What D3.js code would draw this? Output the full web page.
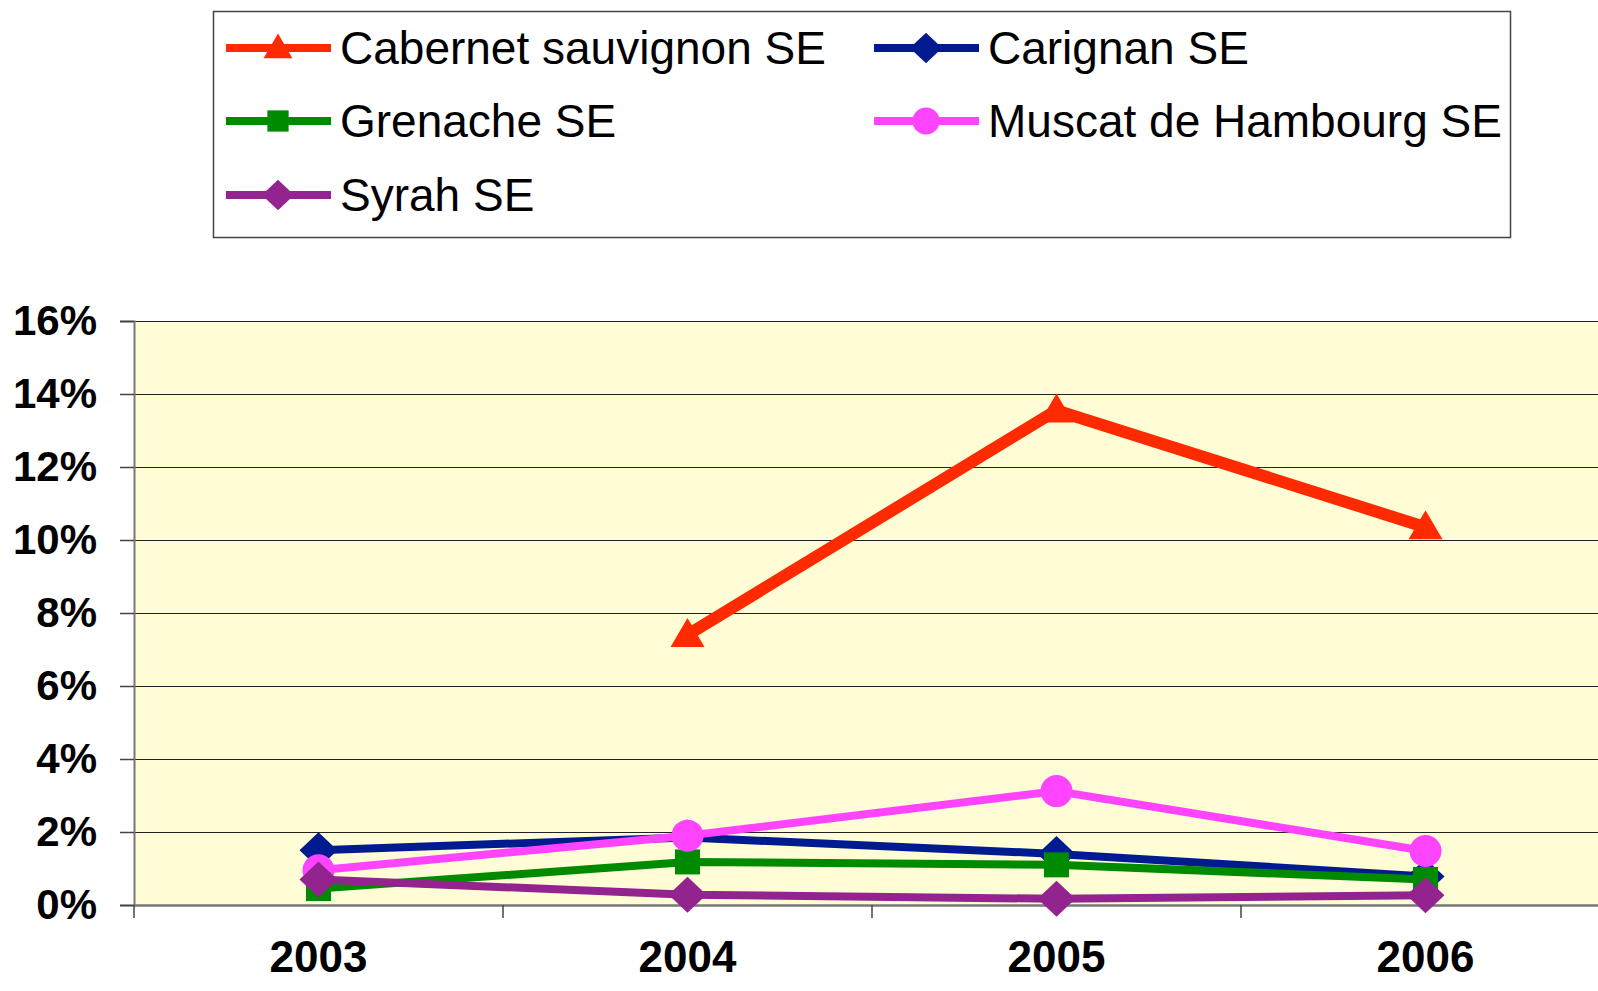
<!DOCTYPE html>
<html>
<head>
<meta charset="utf-8">
<script src="https://cdn.jsdelivr.net/npm/d3@7"></script>
<style>
  html, body { margin: 0; padding: 0; background: #fff; }
  svg { display: block; font-family: "Liberation Sans", Arial, sans-serif; }
</style>
</head>
<body>
<svg id="chart" width="1598" height="991"></svg>
<script>
// data (percent)
const years = ['2003', '2004', '2005', '2006']
const yTicks = [0, 2, 4, 6, 8, 10, 12, 14, 16]

const seriesNames = ['Cabernet sauvignon SE', 'Carignan SE', 'Grenache SE', 'Muscat de Hambourg SE', 'Syrah SE']
const cabernet = [null, 7.4, 13.55, 10.35]
const carignan = [1.5, 1.85, 1.4, 0.78]
const grenache = [0.45, 1.18, 1.1, 0.7]
const muscat = [0.95, 1.9, 3.12, 1.48]
const syrah = [0.7, 0.28, 0.17, 0.27]

const colors = ['#ff2a00', '#001a8f', '#008a00', '#ff44ff', '#93248f']
const shapes = ['triangle', 'diamond', 'square', 'circle', 'diamond']
const widths = [12, 8, 8, 8, 8]

const series = seriesNames.map((name, i) => ({
  name,
  values: [cabernet, carignan, grenache, muscat, syrah][i],
  color: colors[i],
  shape: shapes[i],
  width: widths[i]
}))

const plot = { left: 134, top: 321, bottom: 905, right: 1610 }

const svg = d3.select('#chart')

const x = d3.scaleBand().domain(years).range([plot.left, plot.right])
const y = d3.scaleLinear().domain([0, 16]).range([plot.bottom, plot.top])

// plot background
svg.append('rect')
  .attr('x', plot.left)
  .attr('y', plot.top)
  .attr('width', plot.right - plot.left)
  .attr('height', plot.bottom - plot.top)
  .attr('fill', '#fffdd5')

// gridlines
svg.append('g')
  .selectAll('line')
  .data(yTicks.filter(d => d > 0))
  .join('line')
  .attr('x1', plot.left)
  .attr('x2', plot.right)
  .attr('y1', d => y(d) + 0.5)
  .attr('y2', d => y(d) + 0.5)
  .attr('stroke', '#222')
  .attr('stroke-width', 1.2)

// y axis
const yAxis = svg.append('g')
  .attr('transform', `translate(${plot.left},0)`)
  .call(d3.axisLeft(y).tickValues(yTicks).tickSize(14).tickPadding(23).tickFormat(d => d + '%'))
yAxis.select('.domain').attr('stroke', '#777').attr('stroke-width', 2)
yAxis.selectAll('.tick line').attr('stroke', '#444').attr('stroke-width', 1.5)
yAxis.selectAll('.tick text')
  .attr('font-size', 42)
  .attr('font-weight', 'bold')
  .attr('fill', '#000')
  .attr('font-family', '"Liberation Sans", Arial, sans-serif')

// x axis (labels kept just inside the bottom edge)
const xAxis = svg.append('g')
  .attr('transform', `translate(0,${plot.bottom})`)
  .call(d3.axisBottom(x).tickSize(0).tickPadding(36))
xAxis.select('.domain').attr('stroke', '#777').attr('stroke-width', 2.5)
xAxis.selectAll('.tick text')
  .attr('font-size', 44)
  .attr('font-weight', 'bold')
  .attr('fill', '#000')
  .attr('font-family', '"Liberation Sans", Arial, sans-serif')

// category boundary ticks
svg.append('g')
  .selectAll('line')
  .data(years)
  .join('line')
  .attr('x1', d => x(d))
  .attr('x2', d => x(d))
  .attr('y1', plot.bottom)
  .attr('y2', plot.bottom + 13)
  .attr('stroke', '#444')
  .attr('stroke-width', 1.5)

function markerPath (shape) {
  if (shape === 'triangle') return 'M0,-17L17,12L-17,12Z'
  if (shape === 'diamond') return 'M0,-18L19,0L0,18L-19,0Z'
  if (shape === 'square') return 'M-12.5,-12.5H12.5V12.5H-12.5Z'
  return d3.symbol(d3.symbolCircle, Math.PI * 16 * 16)()
}

const line = d3.line()
  .defined(d => d !== null)
  .x((d, i) => x(years[i]) + x.bandwidth() / 2)
  .y(d => y(d))

series.forEach(s => {
  const g = svg.append('g')
  g.append('path')
    .attr('d', line(s.values))
    .attr('fill', 'none')
    .attr('stroke', s.color)
    .attr('stroke-width', s.width)
    .attr('stroke-linejoin', 'round')
  g.selectAll('path.mark')
    .data(s.values.map((v, i) => ({ v, i })).filter(d => d.v !== null))
    .join('path')
    .attr('class', 'mark')
    .attr('d', markerPath(s.shape))
    .attr('transform', d => `translate(${x(years[d.i]) + x.bandwidth() / 2},${y(d.v)})`)
    .attr('fill', s.color)
})

// legend
const legend = svg.append('g')
legend.append('rect')
  .attr('x', 213.5)
  .attr('y', 11.5)
  .attr('width', 1297)
  .attr('height', 226)
  .attr('fill', '#fff')
  .attr('stroke', '#444')
  .attr('stroke-width', 1.5)

const legendCols = [226, 874]
const legendRows = [48, 121, 195]

const items = legend.selectAll('g.item')
  .data(series)
  .join('g')
  .attr('class', 'item')
  .attr('transform', (d, i) => `translate(${legendCols[i % 2]},${legendRows[Math.floor(i / 2)]})`)
items.append('line')
  .attr('x1', 0)
  .attr('x2', 105)
  .attr('stroke', d => d.color)
  .attr('stroke-width', 8)
items.append('path')
  .attr('d', d => markerPath(d.shape))
  .attr('transform', 'translate(52,0) scale(0.85)')
  .attr('fill', d => d.color)
items.append('text')
  .attr('x', 114)
  .attr('y', 16)
  .attr('font-size', 46)
  .attr('fill', '#000')
  .text(d => d.name)
</script>
</body>
</html>
